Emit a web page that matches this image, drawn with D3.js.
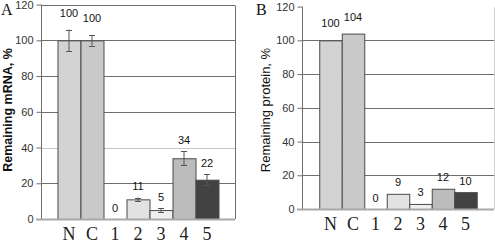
<!DOCTYPE html>
<html>
<head>
<meta charset="utf-8">
<script src="https://cdn.jsdelivr.net/npm/d3@7"></script>
<style>
  body { margin: 0; background: #fff; }
  svg { display: block; }
</style>
</head>
<body>
<svg id="chart" width="495" height="245"></svg>
<script>
// data
var categories = ["N", "C", "1", "2", "3", "4", "5"];
var mrnaValues = [100, 100, 0, 11, 5, 34, 22];
var mrnaErrors = [6, 3, 0, 1, 1, 4, 3];
var proteinValues = [100, 104, 0, 9, 3, 12, 10];
var yTicks = [0, 20, 40, 60, 80, 100, 120];
var barColors = ["#d3d3d3", "#c9c9c9", "#ffffff", "#e2e2e2", "#efefef", "#bcbcbc", "#424242"];

var svg = d3.select("#chart");

function panel(opt) {
    var g = svg.append("g");

    var x = d3.scaleBand()
        .domain(categories)
        .range([opt.left, opt.right])
        .paddingInner(0)
        .paddingOuter(opt.outer);

    var y = d3.scaleLinear()
        .domain([0, 120])
        .range([opt.bottom, opt.top]);

    // gridlines
    g.selectAll("line.grid")
        .data(yTicks.filter(function (t) { return t > 0 && (t < 120 || opt.topBorder); }))
        .enter()
        .append("line")
        .attr("class", "grid")
        .attr("x1", opt.left)
        .attr("x2", opt.right)
        .attr("y1", function (d) { return Math.round(y(d)) + 0.5; })
        .attr("y2", function (d) { return Math.round(y(d)) + 0.5; })
        .attr("stroke", function (d) { return d === opt.lightTick ? "#c4c4c4" : "#6e6e6e"; })
        .attr("stroke-width", 1);

    // right border
    g.append("line")
        .attr("x1", opt.right + 0.5)
        .attr("x2", opt.right + 0.5)
        .attr("y1", Math.round(y(120)) + 0.5)
        .attr("y2", opt.bottom)
        .attr("stroke", opt.rightColor);

    // y axis
    var axis = d3.axisLeft(y)
        .tickValues(yTicks)
        .tickSize(5)
        .tickPadding(3)
        .tickFormat(d3.format("d"));

    var ax = g.append("g")
        .attr("transform", "translate(" + (opt.left + 0.5) + ",0)")
        .call(axis);
    ax.select(".domain").attr("stroke", "#6e6e6e").attr("d", "M0," + y(120) + "V" + opt.bottom);
    ax.selectAll(".tick line").attr("stroke", "#6e6e6e");
    ax.selectAll(".tick text")
        .attr("fill", "#333")
        .style("font-family", "'Liberation Sans', Arial, sans-serif")
        .style("font-size", "11px");

    // bars
    var rows = categories.map(function (c, i) {
        return { c: c, v: opt.values[i], e: opt.errors ? opt.errors[i] : 0, col: barColors[i] };
    });

    g.selectAll("rect.bar")
        .data(rows.filter(function (d) { return d.v > 0; }))
        .enter()
        .append("rect")
        .attr("class", "bar")
        .attr("x", function (d) { return x(d.c) + 0.5; })
        .attr("y", function (d) { return y(d.v) + 0.5; })
        .attr("width", x.bandwidth())
        .attr("height", function (d) { return opt.bottom - y(d.v); })
        .attr("fill", function (d) { return d.col; })
        .attr("stroke", "#4a4a4a")
        .attr("stroke-width", 1);

    // error bars
    if (opt.errors) {
        var eb = g.selectAll("g.err")
            .data(rows.filter(function (d) { return d.e > 0; }))
            .enter()
            .append("g")
            .attr("class", "err")
            .attr("stroke", "#555")
            .attr("stroke-width", 1);
        eb.append("line")
            .attr("x1", function (d) { return x(d.c) + x.bandwidth() / 2; })
            .attr("x2", function (d) { return x(d.c) + x.bandwidth() / 2; })
            .attr("y1", function (d) { return y(d.v - d.e); })
            .attr("y2", function (d) { return y(d.v + d.e); });
        [1, -1].forEach(function (s) {
            eb.append("line")
                .attr("x1", function (d) { return x(d.c) + x.bandwidth() / 2 - 3; })
                .attr("x2", function (d) { return x(d.c) + x.bandwidth() / 2 + 3; })
                .attr("y1", function (d) { return Math.round(y(d.v + s * d.e)) + 0.5; })
                .attr("y2", function (d) { return Math.round(y(d.v + s * d.e)) + 0.5; });
        });
    }

    // baseline
    g.append("line")
        .attr("x1", opt.left - 5)
        .attr("x2", opt.right)
        .attr("y1", opt.bottom + 0.5)
        .attr("y2", opt.bottom + 0.5)
        .attr("stroke", "#a8a8a8")
        .attr("stroke-width", 2);

    // value labels
    g.selectAll("text.val")
        .data(rows)
        .enter()
        .append("text")
        .attr("class", "val")
        .attr("x", function (d) { return x(d.c) + x.bandwidth() / 2; })
        .attr("y", function (d) { return y(d.v + d.e) - (d.v >= 100 ? 13 : 7.5); })
        .attr("text-anchor", "middle")
        .attr("fill", "#111")
        .style("font-family", "'Liberation Sans', Arial, sans-serif")
        .style("font-size", "11px")
        .text(function (d) { return d.v; });

    // category labels
    g.selectAll("text.cat")
        .data(categories)
        .enter()
        .append("text")
        .attr("class", "cat")
        .attr("x", function (d) { return x(d) + x.bandwidth() / 2; })
        .attr("y", opt.bottom + 21)
        .attr("text-anchor", "middle")
        .attr("fill", "#222")
        .style("font-family", "'Liberation Serif', 'Times New Roman', serif")
        .style("font-size", "18px")
        .text(function (d) { return d; });

    // axis title
    g.append("text")
        .attr("transform", "translate(" + opt.titleX + "," + opt.titleY + ") rotate(-90)")
        .attr("text-anchor", "middle")
        .attr("fill", "#111")
        .style("font-family", "'Liberation Sans', Arial, sans-serif")
        .style("font-size", opt.titleSize)
        .style("font-weight", opt.titleWeight)
        .text(opt.title);

    // panel letter
    g.append("text")
        .attr("x", opt.letterX)
        .attr("y", 15)
        .attr("fill", "#111")
        .style("font-family", "'Liberation Serif', 'Times New Roman', serif")
        .style("font-size", "16px")
        .text(opt.letter);
}

panel({
    left: 41, right: 235, top: 4.6, bottom: 219, outer: 0.717,
    values: mrnaValues, errors: mrnaErrors,
    topBorder: true, lightTick: 40, rightColor: "#6e6e6e",
    title: "Remaining mRNA, %", titleX: 12, titleY: 110, titleSize: "12.5px", titleWeight: "bold",
    letter: "A", letterX: 1
});

panel({
    left: 302, right: 494, top: 6.6, bottom: 209, outer: 0.767,
    values: proteinValues, errors: null,
    topBorder: false, lightTick: null, rightColor: "#d0d0d0",
    title: "Remaining protein, %", titleX: 270, titleY: 110, titleSize: "13px", titleWeight: "normal",
    letter: "B", letterX: 256
});
</script>
</body>
</html>
